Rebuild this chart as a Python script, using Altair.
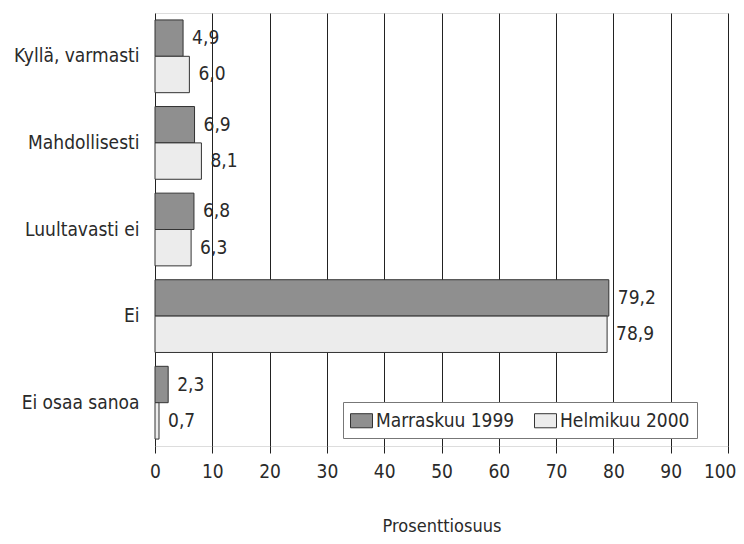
import altair as alt
import pandas as pd

categories = ["Kyllä, varmasti", "Mahdollisesti", "Luultavasti ei", "Ei", "Ei osaa sanoa"]
series_names = ["Marraskuu 1999", "Helmikuu 2000"]
nov_1999 = [4.9, 6.9, 6.8, 79.2, 2.3]
feb_2000 = [6.0, 8.1, 6.3, 78.9, 0.7]
x_ticks = [0, 10, 20, 30, 40, 50, 60, 70, 80, 90, 100]

rows = []
for c, a, b in zip(categories, nov_1999, feb_2000):
    rows.append({"cat": c, "series": series_names[0], "value": a})
    rows.append({"cat": c, "series": series_names[1], "value": b})
df = pd.DataFrame(rows)
df["label"] = df["value"].map(lambda v: f"{v:.1f}".replace(".", ","))

FONT = "DejaVu Sans Condensed, Liberation Sans Narrow, sans-serif"
TXT = "#2a2a2a"
RECT = "M-1,-0.64L1,-0.64L1,0.64L-1,0.64Z"

y_enc = alt.Y("cat:N", sort=categories, title=None,
              scale=alt.Scale(paddingInner=0.16, paddingOuter=0.08),
              axis=alt.Axis(ticks=False, domain=False, labelPadding=16,
                            labelFontSize=19, labelFont=FONT, labelColor=TXT,
                            grid=False))
yoff = alt.YOffset("series:N", sort=series_names, scale=alt.Scale(paddingInner=0, paddingOuter=0))
x_enc = alt.X("value:Q", title="Prosenttiosuus",
              scale=alt.Scale(domain=[0, 100], nice=False),
              axis=alt.Axis(values=x_ticks, tickSize=7, tickColor="#222",
                            domain=False, grid=True, gridColor="#222",
                            gridOpacity=1, gridWidth=1.0, labelFlush=False,
                            labelAlign=alt.expr("datum.value == 100 ? 'right' : 'center'"),
                            labelOffset=alt.expr("datum.value == 100 ? 8 : 0"),
                            labelFontSize=19, labelFont=FONT, labelColor=TXT,
                            labelPadding=9, titleFont=FONT, titleFontSize=18,
                            titleFontWeight="normal", titleColor=TXT,
                            titlePadding=36))

bars = alt.Chart(df).mark_bar(stroke="#333", strokeWidth=1).encode(
    y=y_enc, yOffset=yoff, x=x_enc,
    color=alt.Color("series:N",
                    scale=alt.Scale(domain=series_names, range=["#8f8f8f", "#ececec"]),
                    legend=alt.Legend(title=None, orient="none", direction="horizontal",
                                      columns=2, gridAlign="all",
                                      legendX=188, legendY=389,
                                      fillColor="white", strokeColor="#777",
                                      padding=7, symbolType=RECT, symbolSize=484,
                                      symbolStrokeColor="#333", symbolStrokeWidth=1,
                                      labelFont=FONT, labelFontSize=19, labelColor=TXT,
                                      labelExpr="datum.label == 'Helmikuu 2000' ? datum.label + '\u2003\u2003' : datum.label",
                                      columnPadding=17, labelOffset=3)),
)

labels = alt.Chart(df).mark_text(align="left", baseline="middle", dx=9,
                                 font=FONT, fontSize=19, color=TXT).encode(
    y=alt.Y("cat:N", sort=categories), yOffset=yoff, x="value:Q", text="label:N")

chart = alt.layer(bars, labels).properties(
    width=573, height=433,
    autosize=alt.AutoSizeParams(type="none"),
    padding={"left": 147, "top": 5, "right": 8, "bottom": 90},
).configure_view(stroke="#222", strokeWidth=1.2).configure(background="white")

chart.save("out.html", embed_options={"renderer": "svg", "actions": False})
